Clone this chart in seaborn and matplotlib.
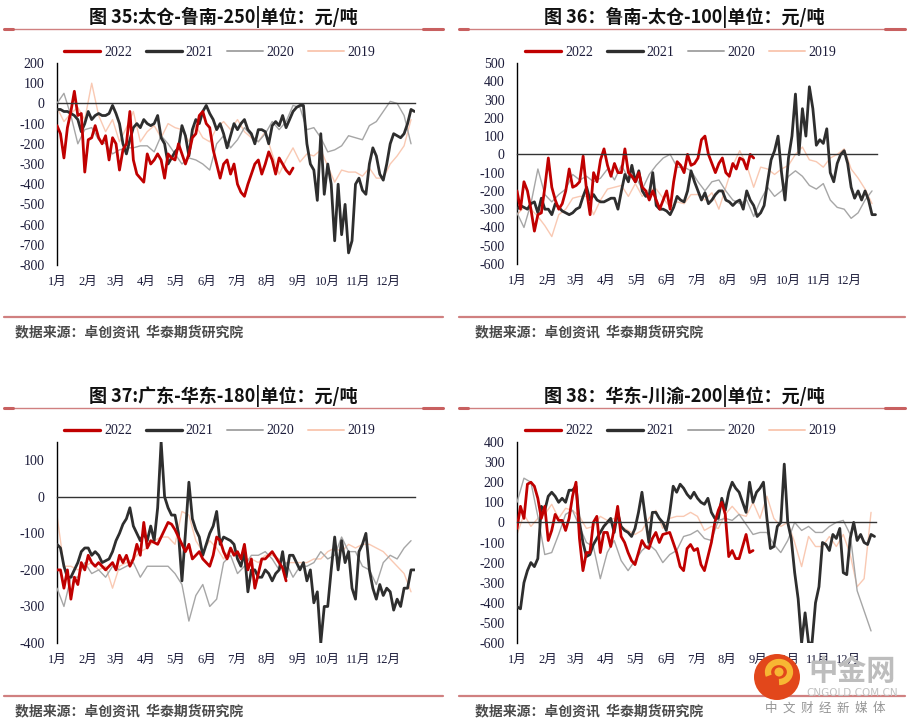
import numpy as np
import pandas as pd
import matplotlib
matplotlib.use('Agg')
import matplotlib.pyplot as plt
import seaborn as sns
from matplotlib.lines import Line2D
from matplotlib.patches import Circle, Arc

# ---------------- data (day-of-year grids) ----------------
half_days = np.arange(104) * 3.5   # 2022 / 2021 read twice a week
week_days = np.arange(52) * 7      # 2020 / 2019 read weekly
month_days = [0, 31, 59, 90, 120, 151, 181, 212, 243, 273, 304, 334]
month_labels = ['1月', '2月', '3月', '4月', '5月', '6月', '7月', '8月', '9月', '10月', '11月', '12月']
years = ['2022', '2021', '2020', '2019']

# panel 1: 太仓-鲁南
p1_2022 = [-110, -150, -270, -120, -40, 60, -60, -50, -340, -180,
           -170, -110, -170, -200, -160, -280, -170, -200, -330, -230,
           -200, -40, -280, -350, -370, -390, -250, -300, -280, -250,
           -280, -370, -250, -270, -280, -200, -250, -300, -250, -170,
           -150, -60, -40, -100, -120, -230, -300, -370, -300, -280,
           -350, -300, -400, -440, -460, -400, -350, -300, -280, -350,
           -300, -240, -280, -350, -270, -300, -330, -350, -320]
p1_2021 = [-30, -30, -40, -40, -50, -60, -80, -140, -100, -40,
           -80, -60, -50, -60, -60, -50, -10, -50, -100, -200,
           -250, -180, -120, -100, -120, -80, -100, -110, -100, -60,
           -170, -200, -300, -270, -240, -220, -110, -160, -260, -130,
           -80, -100, -40, -10, -50, -80, -130, -100, -150, -220,
           -160, -100, -130, -100, -80, -130, -150, -200, -130, -130,
           -140, -200, -110, -90, -110, -60, -120, -80, -40, -20,
           -10, -10, -200, -300, -330, -480, -150, -450, -300, -400,
           -680, -400, -650, -500, -740, -680, -400, -370, -430, -450,
           -300, -220, -260, -350, -380, -300, -200, -150, -160, -170,
           -150, -100, -30, -40]
p1_2020 = [0, 50, -60, -200, -130, -120, -180, -200, -250, -230, -220, -220, -210, -210, -240, -160, -200,
           -250, -300, -270, -280, -300, -330, -200, -160, -220, -180, -120, -160, -190, -150, -90, -130,
           -90, -10, -20, -130, -120, -170, -240, -230, -210, -160, -170, -180, -110, -90, -40, 10, 0, -60,
           -200]
p1_2019 = [-20, -90, -50, -20, -80, 100, -60, -140, -80, -190, -120, -40, -190, -140, -110, -170, -100,
           -120, -130, -190, -110, -170, -190, -120, -90, -130, -80, -140, -170, -190, -140, -250, -350,
           -280, -220, -290, -250, -260, -230, -310, -390, -330, -340, -340, -360, -320, -370, -370, -300,
           -260, -210, -80]

# panel 2: 鲁南-太仓
p2_2022 = [-200, -300, -150, -200, -300, -420, -330, -320, -180, -20,
           -180, -250, -300, -270, -200, -80, -180, -170, -150, -10,
           -200, -330, -100, -150, -30, 30, -60, -120, -50, -100,
           -100, 30, -100, -120, -150, -100, -180, -200, -250, -200,
           -250, -300, -250, -200, -300, -150, -40, -60, -100, 0,
           -60, -50, -20, 80, 100, 0, -50, -100, -50, -20,
           -100, -120, -50, -80, -20, -30, -80, 0, -20]
p2_2021 = [-300, -280, -290, -300, -270, -260, -320, -240, -300, -300,
           -330, -270, -290, -310, -320, -330, -320, -300, -290, -230,
           -180, -250, -220, -250, -260, -260, -250, -240, -240, -300,
           -200, -110, -150, -60, -150, -90, -200, -230, -220, -100,
           -280, -300, -300, -310, -330, -290, -230, -250, -260, -200,
           -90, -150, -200, -250, -210, -270, -250, -220, -200, -200,
           -250, -260, -280, -260, -250, -300, -200, -250, -280, -340,
           -320, -280, -150, -30, 20, 100, -100, -250, -20, 100,
           330, 0, 250, 100, 370, 250, 50, 80, 60, 140,
           -100, -150, -50, 0, 20, -50, -180, -240, -200, -250,
           -200, -250, -330, -330]
p2_2020 = [-320, -400, -270, -80, -220, -260, -220, -190, -110, -140, -120, -150, -130, -80, -140, -60,
           -130, -120, -190, -110, -60, -20, 0, -70, -70, -90, -150, -200, -150, -140, -200, -250, -270,
           -250, -340, -250, -180, -230, -200, -120, -90, -120, -170, -190, -160, -250, -290, -300, -350,
           -320, -250, -200]
p2_2019 = [-330, -290, -300, -340, -390, -450, -330, -300, -240, -230, -230, -330, -250, -190, -180, -170,
           -230, -160, -230, -190, -190, -240, -290, -260, -270, -220, -220, -250, -210, -300, -180, -60,
           20, -60, -180, -70, -80, -110, -80, -60, 0, 40, -30, -40, -70, -20, 0, 30, -80, -130, -190, -270]

# panel 3: 广东-华东
p3_2022 = [-200, -200, -250, -200, -280, -220, -240, -180, -200, -160,
           -180, -190, -180, -190, -200, -190, -180, -200, -160, -180,
           -160, -190, -170, -130, -160, -70, -140, -120, -125, -130,
           -110, -90, -70, -75, -90, -110, -130, -150, -130, -170,
           -160, -150, -170, -180, -190, -160, -110, -120, -150, -170,
           -140, -160, -150, -170, -130, -200, -170, -250, -210, -170,
           -170, -160, -150, -165, -180, -195, -230]
p3_2021 = [-130, -140, -190, -220, -220, -200, -180, -150, -140, -140,
           -160, -150, -160, -180, -175, -170, -150, -120, -100, -75,
           -60, -30, -80, -100, -120, -100, -120, -80, -120, -30,
           150, 0, -30, -50, -50, -100, -230, -100, 40, -60,
           -90, -110, -160, -130, -100, -80, -40, -130, -110, -115,
           -120, -130, -170, -190, -150, -260, -200, -200, -220, -220,
           -200, -210, -230, -210, -200, -150, -220, -160, -160, -180,
           -200, -180, -230, -200, -290, -260, -400, -300, -300, -200,
           -110, -200, -120, -180, -150, -250, -280, -150, -130, -100,
           -200, -250, -280, -240, -270, -250, -260, -310, -280, -300,
           -250, -250, -200, -200]
p3_2020 = [-250, -300, -220, -220, -180, -210, -200, -220, -190, -200, -190, -180, -220, -190, -190, -190,
           -190, -210, -240, -340, -270, -240, -300, -280, -180, -160, -210, -190, -160, -160, -150, -170,
           -200, -180, -220, -190, -190, -180, -150, -170, -160, -110, -150, -150, -190, -200, -240, -180,
           -160, -170, -140, -120]
p3_2019 = [-50, -190, -190, -200, -190, -180, -200, -190, -250, -190, -180, -170, -150, -140, -120, -110,
           -110, -130, -40, -50, -120, -150, -120, -140, -170, -140, -160, -170, -170, -180, -160, -160,
           -170, -180, -180, -180, -180, -170, -170, -150, -140, -150, -130, -140, -130, -130, -140, -150,
           -170, -190, -210, -260]

# panel 4: 华东-川渝
p4_2022 = [-30, 80, 20, 190, 200, 180, 120, 20, 80, -90,
           -40, 40, 10, 10, -40, 20, 130, 200, -80, -240,
           -150, -150, 0, 30, -150, -50, -50, -120, -30, 80,
           -70, -100, -150, -190, -210, -150, -90, -120, -130, -80,
           -50, -100, -60, -55, -50, -100, -150, -220, -240, -130,
           -110, -140, -130, -210, -240, -170, -100, 0, 60, 100,
           40, -170, -140, -180, -180, -120, -60, -150, -140]
p4_2021 = [-420, -430, -300, -240, -200, -220, -180, 80, 60, 130,
           150, 130, 100, 120, 100, 160, 160, 180, 0, -100,
           -170, -160, -110, -80, -50, -20, 0, 20, -50, 50,
           -20, -40, -50, -70, -30, 50, 150, 20, -100, 50,
           50, 20, 0, -40, 50, 180, 150, 190, 170, 140,
           120, 150, 120, 100, 90, 120, 50, 20, 20, 120,
           60, 150, 200, 170, 150, 100, 50, 200, 100, 150,
           170, 200, 20, -130, -120, -20, 0, 290, 0, -80,
           -250, -380, -600, -450, -600, -600, -400, -320, -100, -110,
           -140, -60, -80, -30, -250, -260, -80, 0, -90, -60,
           -100, -110, -60, -70]
p4_2020 = [100, 220, 200, 30, -160, -150, -60, 40, 60, -20, -100, -120, -280, -150, -90, -190, -240, -190,
           -140, -110, -140, -200, -160, -140, -70, -60, -40, -80, -90, 10, 20, 10, 40, -10, -60, -50, -50,
           -110, -150, -90, 0, -40, -20, -50, -50, -20, 0, 10, -60, -340, -440, -540]
p4_2019 = [-60, 40, -20, 20, 40, 90, 20, 70, 60, 30, -30, -20, 30, 10, 20, -20, -40, -60, -40, 20, 60, -30,
           20, 30, 30, 50, 30, -40, -20, -30, 40, 80, 40, 30, 100, 20, 130, 20, -20, 0, -100, -220, -70,
           -120, -120, -70, -120, -60, -160, -320, -280, 50]

titles = ['图 35:太仓-鲁南-250|单位：元/吨', '图 36：鲁南-太仓-100|单位：元/吨',
          '图 37:广东-华东-180|单位：元/吨', '图 38：华东-川渝-200|单位：元/吨']
source_text = '数据来源：卓创资讯  华泰期货研究院'

# ---------------- style ----------------
sns.set_style('white')
plt.rcParams['font.family'] = ['Liberation Serif', 'Noto Sans CJK SC', 'DejaVu Sans']
plt.rcParams['axes.unicode_minus'] = False

colors = {'2022': '#C00000', '2021': '#2E2E2E', '2020': '#A6A6A6', '2019': '#F9C9B3'}
widths = {'2022': 2.0, '2021': 2.0, '2020': 1.0, '2019': 1.0}
zords = {'2022': 5, '2021': 4, '2020': 3, '2019': 2}
grids = {'2022': half_days, '2021': half_days, '2020': week_days, '2019': week_days}
tick_color = '#1c1c3a'
rule_color = '#D08080'

W, H = 911, 726
fig = plt.figure(figsize=(W / 100, H / 100), dpi=100)


def fx(x):
    return x / W


def fy(y):
    return 1 - y / H


panels = [
    dict(series=[p1_2022, p1_2021, p1_2020, p1_2019], rect=(57, 63, 415, 265), ylim=(-800, 200),
         xmax=361, ox=0, oy=0, cx=220),
    dict(series=[p2_2022, p2_2021, p2_2020, p2_2019], rect=(517, 63, 877, 264), ylim=(-600, 500),
         xmax=362, ox=460, oy=0, cx=681),
    dict(series=[p3_2022, p3_2021, p3_2020, p3_2019], rect=(57, 442, 415, 643), ylim=(-400, 150),
         xmax=361, ox=0, oy=379, cx=220),
    dict(series=[p4_2022, p4_2021, p4_2020, p4_2019], rect=(517, 442, 876, 643), ylim=(-600, 400),
         xmax=362, ox=460, oy=379, cx=681),
]

for i, p in enumerate(panels):
    l, t, r, b = p['rect']
    ax = fig.add_axes([fx(l), fy(b), (r - l) / W, (b - t) / H])
    frames = []
    for y, vals in zip(years, p['series']):
        frames.append(pd.DataFrame({'day': grids[y][:len(vals)], 'value': vals, 'year': y}))
    df = pd.concat(frames, ignore_index=True)
    for y in years[::-1]:
        sns.lineplot(data=df[df['year'] == y], x='day', y='value', color=colors[y], lw=widths[y],
                     ax=ax, zorder=zords[y], label=y)
    if ax.get_legend() is not None:
        ax.get_legend().remove()
    ax.set_xlim(0, p['xmax'])
    ax.set_ylim(*p['ylim'])
    lo, hi = p['ylim']
    ax.set_yticks(np.arange(lo, (hi // 100) * 100 + 1, 100))
    ax.set_xlabel('')
    ax.set_ylabel('')
    for s in ['top', 'right']:
        ax.spines[s].set_visible(False)
    ax.spines['left'].set_color('#000000')
    ax.spines['left'].set_linewidth(1.0)
    ax.spines['bottom'].set_position(('data', 0))
    ax.spines['bottom'].set_color('#333333')
    ax.spines['bottom'].set_linewidth(1.0)
    ax.spines['bottom'].set_zorder(6)
    ax.set_xticks(month_days[1:])
    ax.tick_params(axis='x', direction='out', length=3.5, width=0.8, colors='#333333', labelbottom=False)
    ax.tick_params(axis='y', direction='out', length=4, width=0.8, color='#000000', pad=5,
                   labelsize=10, labelcolor=tick_color)
    sec = ax.secondary_xaxis(0.0)
    sec.set_xticks(month_days, labels=month_labels)
    sec.tick_params(length=0, pad=8, labelsize=9, labelcolor=tick_color)
    sec.spines['bottom'].set_visible(False)

    # legend
    handles = [Line2D([0], [0], color=colors[y], lw=widths[y] + 0.4) for y in years]
    ax.legend(handles, years, loc='center', bbox_to_anchor=(fx(p['cx']), fy(52 + p['oy'])),
              bbox_transform=fig.transFigure, ncol=4, frameon=False, handlelength=2.6,
              handletextpad=0.25, columnspacing=1.0, prop={'family': 'Liberation Serif', 'size': 10},
              labelcolor=tick_color, borderaxespad=0)

    # title and rules
    ox, oy = p['ox'], p['oy']
    x0, x1 = 4 + ox - (5 if ox else 0), 443 + ox + (2 if ox else 0)
    fig.text(fx((x0 + x1) / 2 + (0 if ox == 0 else 2)), fy(17 + oy), titles[i], ha='center', va='center',
             fontsize=13, fontweight='bold', family=['Noto Sans CJK SC', 'DejaVu Sans'], color='#111111')
    fig.add_artist(Line2D([fx(x0), fx(x1)], [fy(29 + oy), fy(29 + oy)], color=rule_color, lw=1.0))
    fig.add_artist(Line2D([fx(x0), fx(x0 + 9)], [fy(29 + oy), fy(29 + oy)], color='#C86060', lw=2.2))
    fig.add_artist(Line2D([fx(x1 - 20), fx(x1)], [fy(29 + oy), fy(29 + oy)], color='#C86060', lw=2.2))
    sy = 317 if oy == 0 else 696
    fig.add_artist(Line2D([fx(x0), fx(x1)], [fy(sy), fy(sy)], color=rule_color, lw=1.6))
    fig.text(fx(15 + ox), fy(sy + 15), source_text, ha='left', va='center', fontsize=10,
             fontweight='bold', family=['Noto Sans CJK SC', 'DejaVu Sans'], color='#4a4a4a')

# ---------------- watermark ----------------
wm = fig.dpi_scale_trans
fig.add_artist(Circle((777 / 100, (H - 677) / 100), 0.23, transform=wm, facecolor='#E2471B',
                      edgecolor='none', zorder=20))
fig.add_artist(Arc((779 / 100, (H - 672) / 100), 0.22, 0.2, theta1=-90, theta2=200, transform=wm,
                   color='#F7B733', lw=4.5, zorder=21))
fig.add_artist(Circle((779 / 100, (H - 672) / 100), 0.045, transform=wm, facecolor='#F7B733',
                      edgecolor='none', zorder=21))
fig.text(fx(852), fy(671), '中金网', ha='center', va='center', fontsize=21, fontweight='bold',
         family=['Noto Sans CJK SC'], color='#BDBDBD', zorder=20)
fig.text(fx(852), fy(693), 'CNGOLD.COM.CN', ha='center', va='center', fontsize=7.5,
         family=['DejaVu Sans'], color='#C0C0C0', zorder=20)
fig.text(fx(825), fy(708), '中  文  财  经  新  媒  体', ha='center', va='center', fontsize=9,
         family=['Noto Sans CJK SC'], color='#959595', zorder=20)

fig.savefig('out.png', dpi=100, facecolor='white')
